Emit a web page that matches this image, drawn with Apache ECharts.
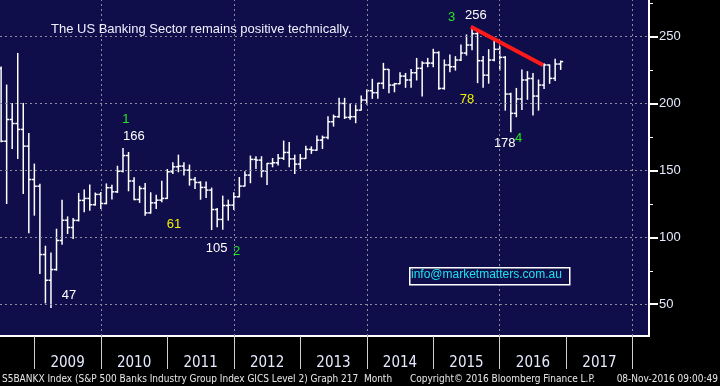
<!DOCTYPE html>
<html><head><meta charset="utf-8">
<script src="https://cdn.jsdelivr.net/npm/echarts@6/dist/echarts.min.js"></script>
<style>html,body{margin:0;padding:0;background:#000;}#c{width:720px;height:386px;}</style>
</head><body><div id="c"></div>
<script>
// Monthly OHLC, S5BANKX, first bar = Jun 2008 (axis value = months from start of 2009, bar at month end)
const firstBarOffset = -6;
const opens = [226,171.7,187.9,184.9,180.5,168.0,143.1,138.1,87.1,67.9,75.9,97.6,112.7,107.3,112.6,127.5,129.0,124.3,132.0,125.2,137.0,133.9,149.3,161.0,142.0,128.2,136.4,118.2,125.7,127.7,129.0,148.9,152.6,153.1,150.1,143.1,140.9,137.2,135.2,120.7,113.3,123.7,124.0,130.2,138.2,146.4,158.1,157.6,149.5,155.1,155.6,159.0,163.3,158.5,154.6,158.8,165.6,165.0,172.5,174.5,186.2,190.0,199.9,189.5,190.0,194.9,202.4,209.4,207.9,214.9,225.3,213.6,214.6,220.3,217.4,222.8,226.1,230.0,230.0,237.8,211.1,228.6,227.3,232.3,237.5,243.5,252.0,231.8,221.0,232.3,240.3,234.3,206.9,192.5,203.2,217.4,218.5,205.4,213.6,228.6,218.6,229.3];
const highs = [227,213.6,199.9,237.2,199.9,177.5,154.6,139.6,93.3,88.3,106.0,127.7,115.2,114.0,132.7,135.2,139.0,133.0,133.5,139.8,138.8,153.0,166.3,163.3,144.4,138.0,140.2,133.2,131.4,141.9,150.6,155.6,161.3,155.6,153.9,144.6,141.4,141.2,136.7,121.5,130.7,127.7,133.2,144.6,148.9,160.6,160.1,160.1,155.1,158.8,161.8,171.8,170.8,161.3,161.8,168.0,167.5,175.5,175.5,190.0,191.2,203.7,203.7,199.5,198.7,205.4,209.9,217.9,214.9,229.8,225.3,214.9,222.8,222.3,225.3,233.5,231.0,233.5,240.3,238.5,232.3,236.0,234.8,243.5,251.0,257.2,253.0,235.0,240.0,247.2,242.3,234.8,207.5,211.1,224.8,223.6,222.3,217.4,229.5,228.6,232.8,231.5];
const lows = [171.3,125.2,166.3,158.8,132.7,103.3,116.5,72.9,51.0,47.5,75.4,94.8,102.8,99.0,112.2,119.0,120.2,124.0,121.5,125.0,128.5,133.5,148.8,134.7,128.0,126.0,116.5,118.0,121.5,126.5,129.0,147.6,148.9,146.4,138.9,136.4,128.4,129.7,105.8,107.8,106.0,112.8,120.7,130.2,138.2,140.7,151.4,145.1,139.4,152.6,153.9,158.0,152.6,147.6,151.4,158.8,162.6,165.0,166.3,173.5,183.0,189.5,188.7,188.0,185.5,194.9,199.4,203.7,203.7,211.1,207.9,208.6,214.6,211.9,211.9,217.4,205.4,227.3,227.3,210.4,210.5,223.6,224.8,232.0,236.0,240.0,215.4,212.0,215.0,231.8,224.8,194.9,178.8,190.0,195.4,203.0,191.2,194.9,211.0,214.9,217.0,225.3];
const closes = [171.7,187.9,184.9,180.5,168.0,143.1,138.1,87.1,67.9,75.9,97.6,112.7,107.3,112.6,127.5,129.0,124.3,132.0,125.2,137.0,133.9,149.3,161.0,142.0,128.2,136.4,118.2,125.7,127.7,129.0,148.9,152.6,153.1,150.1,143.1,140.9,137.2,135.2,120.7,113.3,123.7,124.0,130.2,138.2,146.4,158.1,157.6,149.5,155.1,155.6,159.0,163.3,158.5,154.6,158.8,165.6,165.0,172.5,174.5,186.2,190.0,199.9,189.5,190.0,194.9,202.4,209.4,207.9,214.9,225.3,213.6,214.6,220.3,217.4,222.8,226.1,230.0,230.0,237.8,211.1,228.6,227.3,232.3,237.5,243.5,252.0,231.8,221.0,232.3,240.3,234.3,206.9,192.5,203.2,217.4,218.5,205.4,213.6,228.6,218.6,229.3,231.12];

const years = [2009,2010,2011,2012,2013,2014,2015,2016,2017];
const yearBoundaries = [2009,2010,2011,2012,2013,2014,2015,2016,2017,2018];
const gridYears = [2010,2012,2014,2016,2018];
const yMajorTicks = [50,100,150,200,250];
const yMinorTicks = [75,125,175,225,275];
const lastPrice = 231.12;
const trendLine = [[78.8,257.2],[91.8,228.6]];
const annotations = [
  ['1',16.5,188.2,'#22e622'],['166',17.96,175.5,'#ffffff'],
  ['47',6.24,56.7,'#ffffff'],['61',25.2,109.8,'#f0f000'],
  ['105',32.9,91.5,'#ffffff'],['2',36.5,89.6,'#22e622'],
  ['3',75.3,264.4,'#22e622'],['256',79.7,265.9,'#ffffff'],
  ['78',78.1,202.8,'#f0f000'],['178',84.9,170.3,'#ffffff'],['4',87.4,174.0,'#22e622']
];
const titleText = 'The US Banking Sector remains positive technically.';
const emailText = 'info@marketmatters.com.au';
const footerLeft = 'S5BANKX Index (S&P 500 Banks Industry Group Index GICS Level 2) Graph 217  Month';
const footerMid = 'Copyright\u00a9 2016 Bloomberg Finance L.P.';
const footerRight = '08-Nov-2016 09:00:49';

const yr = y => (y - 2009) * 12;
const ohlc = opens.map((o,i)=>[i+firstBarOffset,o,highs[i],lows[i],closes[i]]);

function renderOHLC(params, api){
  const x = api.value(0);
  const o = api.coord([x, api.value(1)]);
  const h = api.coord([x, api.value(2)]);
  const l = api.coord([x, api.value(3)]);
  const c = api.coord([x, api.value(4)]);
  const w = api.size([1,0])[0]*0.45;
  const style = {stroke:'#ffffff', lineWidth:1.5};
  return {type:'group', children:[
    {type:'line', shape:{x1:h[0],y1:h[1]-0.5,x2:l[0],y2:l[1]+0.5}, style},
    {type:'line', shape:{x1:o[0]-w,y1:o[1],x2:o[0],y2:o[1]}, style},
    {type:'line', shape:{x1:c[0],y1:c[1],x2:c[0]+w,y2:c[1]}, style}
  ]};
}

function renderLabel(params, api){
  const a = annotations[params.dataIndex];
  const p = api.coord([api.value(0), api.value(1)]);
  return {type:'text', x:p[0], y:p[1], style:{text:a[0], fill:a[3], align:'center', verticalAlign:'middle',
    font:'13px "Liberation Sans", Arial, sans-serif'}};
}

const chart = echarts.init(document.getElementById('c'), null, {renderer:'canvas'});
const yMin = 26.3, yMax = 277.1;
chart.setOption({
  backgroundColor:'#000000',
  animation:false,
  grid:{left:0, top:0, right:71, bottom:50, show:true, backgroundColor:'#100e4a', borderWidth:0},
  xAxis:{type:'value', min:-6.2, max:110.94,
    axisLine:{show:true, onZero:false, lineStyle:{color:'#ffffff', width:2}},
    axisTick:{show:true, customValues:yearBoundaries.map(yr), length:33, lineStyle:{color:'#d0d0d0', width:1}},
    axisLabel:{customValues:years.map(y=>yr(y)+6), formatter:v=>String(2009+Math.round((v-6)/12)),
      color:'#e6eaff', fontSize:15, fontFamily:'Liberation Sans Narrow, DejaVu Sans Condensed, sans-serif', margin:20},
    splitLine:{show:false}},
  yAxis:[
    {type:'value', position:'right', min:yMin, max:yMax,
      axisLine:{show:true, onZero:false, lineStyle:{color:'#ffffff', width:2}},
      axisTick:{show:true, customValues:yMajorTicks, length:9, lineStyle:{color:'#ffffff', width:2}},
      axisLabel:{customValues:yMajorTicks, color:'#e6eaff', fontSize:13, fontFamily:'Liberation Sans, Arial, sans-serif', margin:10},
      splitLine:{show:false}},
    {type:'value', position:'right', min:yMin, max:yMax,
      axisLine:{show:false, onZero:false},
      axisTick:{show:true, customValues:yMinorTicks, length:4, lineStyle:{color:'#ffffff', width:1}},
      axisLabel:{show:false},
      splitLine:{show:false}}
  ],
  series:[
    {type:'line', data:[], silent:true, z:1,
      markLine:{silent:true, symbol:['none','none'], label:{show:false},
        lineStyle:{color:'#8c8c9c', type:[2,3], width:1},
        data:[...yMajorTicks.map(v=>({yAxis:v})), ...gridYears.map(y=>({xAxis:yr(y)}))]}},
    {type:'custom', renderItem:renderOHLC, data:ohlc, clip:true, z:3,
      encode:{x:0, y:[1,2,3,4]}},
    {type:'line', data:[], silent:true, z:5,
      markLine:{silent:true, symbol:['none','none'],
        lineStyle:{color:'#ff1a1a', width:4, type:'solid'}, label:{show:false},
        data:[[{coord:trendLine[0]},{coord:trendLine[1]}]]}},
    {type:'line', data:[], silent:true, z:6,
      markLine:{silent:true, symbol:['none','none'], lineStyle:{opacity:0},
        label:{show:true, position:'end', distance:1,
          formatter:'{n|\u25C0}{b|'+lastPrice.toFixed(4)+'}',
          rich:{n:{color:'#ffffff', fontSize:11, fontFamily:'DejaVu Sans'},
                b:{backgroundColor:'#ffffff', color:'#000000', fontSize:13, fontFamily:'Liberation Sans, Arial, sans-serif', padding:[2,12,2,3], lineHeight:17}}},
        data:[{yAxis:lastPrice}]}},
    {type:'custom', silent:true, z:7, renderItem:renderLabel, clip:false,
      data:annotations.map(a=>[a[1],a[2]]), encode:{x:0, y:1}}
  ],
  graphic:[
    {type:'text', left:51, top:23, z:10, style:{text:titleText, fill:'#eef0ff', font:'13px "Liberation Sans", Arial, sans-serif'}},
    {type:'rect', left:409, top:267, z:10, shape:{width:160, height:17}, style:{fill:'#100e4a', stroke:'#ffffff', lineWidth:1.5}},
    {type:'text', left:411, top:269, z:11, style:{text:emailText, fill:'#1ee3ef', font:'12px "Liberation Sans", Arial, sans-serif'}},
    {type:'text', left:2, top:374, z:10, style:{text:footerLeft, fill:'#e8e8e8', font:'10px "Liberation Sans Narrow", "DejaVu Sans Condensed", sans-serif'}},
    {type:'text', left:410, top:374, z:10, style:{text:footerMid, fill:'#e8e8e8', font:'10px "Liberation Sans Narrow", "DejaVu Sans Condensed", sans-serif'}},
    {type:'text', right:2, top:374, z:10, style:{text:footerRight, fill:'#e8e8e8', font:'10px "Liberation Sans Narrow", "DejaVu Sans Condensed", sans-serif'}}
  ]
});
</script></body></html>
